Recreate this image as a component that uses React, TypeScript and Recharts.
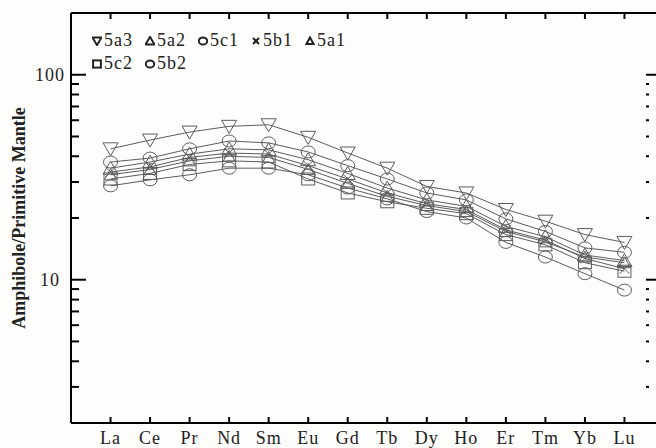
import { ComposedChart, Line, Scatter, XAxis, YAxis, Legend } from "recharts";

// REE pattern, amphibole normalised to primitive mantle
const elements = ["La", "Ce", "Pr", "Nd", "Sm", "Eu", "Gd", "Tb", "Dy", "Ho", "Er", "Tm", "Yb", "Lu"];

const s5a3 = [43.5, 48, 52.5, 56, 57, 49.5, 41.5, 35, 28.5, 26.5, 22, 19.3, 16.6, 15.2];
const s5c1 = [37.5, 39.2, 43.5, 47.5, 46.5, 42, 36, 31, 26.5, 24.5, 19.8, 17.2, 14.3, 13.6];
const s5a2 = [35, 37.5, 41, 43.5, 43, 38.5, 33, 28, 24.5, 22.8, 18.2, 16.2, 13.2, 12.4];
const s5b1 = [33.5, 35.5, 39.5, 41.5, 41, 36, 31, 26.5, 23.5, 22, 17.5, 15.6, 12.7, 11.3];
const s5a1 = [32.5, 34.5, 38, 40, 39.5, 34.5, 29.5, 25.5, 23, 21.5, 17.2, 15.3, 12.9, 12.1];
const s5c2 = [31, 33, 36.5, 38, 37.5, 31, 26.5, 24, 22.3, 21, 16.6, 14.8, 12.1, 11];
const s5b2 = [28.7, 30.7, 32.5, 35, 35, 32.5, 28, 24.8, 21.5, 20, 15.2, 12.9, 10.7, 8.9];

const yTicks = [3, 4, 5, 6, 7, 8, 9, 10, 20, 30, 40, 50, 60, 70, 80, 90, 100];
const yDomain = [2, 200];
const xDomain = [0, 15];
const legendRows = [
  ["5a3", "5a2", "5c1", "5b1", "5a1"],
  ["5c2", "5b2"],
];

type Kind = "down" | "up" | "upSmall" | "circle" | "cross" | "square";

const series: { key: string; values: number[]; kind: Kind }[] = [
  { key: "5a3", values: s5a3, kind: "down" },
  { key: "5c1", values: s5c1, kind: "circle" },
  { key: "5a2", values: s5a2, kind: "up" },
  { key: "5b1", values: s5b1, kind: "cross" },
  { key: "5a1", values: s5a1, kind: "upSmall" },
  { key: "5c2", values: s5c2, kind: "square" },
  { key: "5b2", values: s5b2, kind: "circle" },
];

const kindOf: Record<string, Kind> = Object.fromEntries(series.map((s) => [s.key, s.kind]));

const rows = elements.map((el, i) => {
  const row: Record<string, number | string> = { x: i + 1, el };
  series.forEach((s) => (row[s.key] = s.values[i]));
  return row;
});

const xTicks = elements.map((_, i) => i + 1);

// tick marks of the frame, placed through the chart scales
const leftMarks = yTicks.map((v) => ({ x: xDomain[0], y: v }));
const rightMarks = yTicks.map((v) => ({ x: xDomain[1], y: v }));
const bottomMarks = xTicks.map((t) => ({ x: t, y: yDomain[0] }));
const topMarks = xTicks.map((t) => ({ x: t, y: yDomain[1] }));

const FONT = "'Liberation Serif', 'Times New Roman', serif";
const GRAY = "#5c5c5c";

function shape(kind: Kind, cx: number, cy: number, k: number, stroke: string, sw: number) {
  switch (kind) {
    case "down":
      return <polygon points={`${cx - 7.5 * k},${cy - 6 * k} ${cx + 7.5 * k},${cy - 6 * k} ${cx},${cy + 7 * k}`} fill="none" stroke={stroke} strokeWidth={sw} />;
    case "up":
      return <polygon points={`${cx - 7.5 * k},${cy + 6 * k} ${cx + 7.5 * k},${cy + 6 * k} ${cx},${cy - 7 * k}`} fill="none" stroke={stroke} strokeWidth={sw} />;
    case "upSmall":
      return <polygon points={`${cx - 6 * k},${cy + 5 * k} ${cx + 6 * k},${cy + 5 * k} ${cx},${cy - 6 * k}`} fill="none" stroke={stroke} strokeWidth={sw} />;
    case "circle":
      return <ellipse cx={cx} cy={cy} rx={7 * k} ry={6 * k} fill="none" stroke={stroke} strokeWidth={sw} />;
    case "square":
      return <rect x={cx - 6.5 * k} y={cy - 6 * k} width={13 * k} height={12 * k} fill="none" stroke={stroke} strokeWidth={sw} />;
    default:
      return (
        <g stroke={stroke} strokeWidth={sw}>
          <line x1={cx - 5 * k} y1={cy - 5 * k} x2={cx + 5 * k} y2={cy + 5 * k} />
          <line x1={cx - 5 * k} y1={cy + 5 * k} x2={cx + 5 * k} y2={cy - 5 * k} />
        </g>
      );
  }
}

const isMajor = (v: number) => v === 10 || v === 100;

const LeftMark = (p: any) => (
  <path d={`M${p.cx},${p.cy}h${isMajor(p.payload.y) ? 15 : 8}`} stroke="#000" strokeWidth={2} fill="none" />
);
const RightMark = (p: any) => (
  <path d={isMajor(p.payload.y) ? `M${p.cx - 18},${p.cy}h18` : `M${p.cx - 18},${p.cy}h3`} stroke="#000" strokeWidth={2} fill="none" />
);
const BottomMark = (p: any) => <path d={`M${p.cx},${p.cy}v-6`} stroke="#000" strokeWidth={2} fill="none" />;
const TopMark = (p: any) => <path d={`M${p.cx},${p.cy}v6`} stroke="#000" strokeWidth={2} fill="none" />;

const LeftTick = (props: any) => {
  const x = Number(props.x);
  const y = Number(props.y);
  const v = props.payload.value;
  if (!isMajor(v)) return <g />;
  return (
    <text x={x - 21} y={y + 6} textAnchor="middle" fontFamily={FONT} fontSize={18} letterSpacing={1} fill="#222">
      {v}
    </text>
  );
};

const BottomTick = (props: any) => (
  <text x={Number(props.x)} y={Number(props.y) + 21} textAnchor="middle" fontFamily={FONT} fontSize={18} letterSpacing={1} fill="#222">
    {elements[props.payload.value - 1]}
  </text>
);

const YTitle = () => (
  <text transform="translate(25,218) rotate(-90)" textAnchor="middle" fontFamily={FONT} fontSize={18} fontWeight="bold" fill="#222">
    Amphibole/Primitive Mantle
  </text>
);

const renderLegend = () => (
  <div style={{ fontFamily: FONT, fontSize: 18, lineHeight: "23px", color: "#222", letterSpacing: 1 }}>
    {legendRows.map((r, ri) => (
      <div key={ri} style={{ display: "flex", whiteSpace: "nowrap" }}>
        {r.map((name) => (
          <span key={name} style={{ display: "inline-flex", alignItems: "center", marginRight: 12 }}>
            <svg width={10} height={10} style={{ marginRight: 2 }}>
              {shape(kindOf[name], 5, 5, 0.6, "#222", 2)}
            </svg>
            {name}
          </span>
        ))}
      </div>
    ))}
  </div>
);

const axisStyle = { stroke: "#000", strokeWidth: 2 };

export default function App() {
  return (
    <div style={{ position: "absolute", left: 0, top: 0, width: 656, height: 448, overflow: "hidden", background: "#fdfdfb" }}>
      <ComposedChart width={700} height={448} data={rows} margin={{ top: 12, right: 20, bottom: 0, left: 21 }}>
        <XAxis
          dataKey="x"
          type="number"
          domain={xDomain}
          ticks={xTicks}
          interval={0}
          height={25}
          tickSize={0}
          tickMargin={0}
          tickLine={false}
          tick={<BottomTick />}
          axisLine={axisStyle}
        />
        <XAxis
          xAxisId="top"
          orientation="top"
          dataKey="x"
          type="number"
          domain={xDomain}
          ticks={xTicks}
          interval={0}
          height={1}
          tickSize={0}
          tickLine={false}
          tick={false}
          axisLine={axisStyle}
        />
        <YAxis
          type="number"
          scale="log"
          domain={yDomain}
          allowDataOverflow
          ticks={yTicks}
          interval={0}
          width={50}
          tickSize={0}
          tickMargin={0}
          tickLine={false}
          tick={<LeftTick />}
          axisLine={axisStyle}
          label={<YTitle />}
        />
        <YAxis
          yAxisId="right"
          orientation="right"
          type="number"
          scale="log"
          domain={yDomain}
          allowDataOverflow
          ticks={yTicks}
          interval={0}
          width={16}
          tickSize={0}
          tickLine={false}
          tick={false}
          axisLine={axisStyle}
        />
        <Legend content={renderLegend} verticalAlign="middle" align="center" wrapperStyle={{ left: 92, top: 29, width: 330 }} />
        <Scatter data={leftMarks} dataKey="y" shape={LeftMark} isAnimationActive={false} legendType="none" />
        <Scatter data={rightMarks} dataKey="y" shape={RightMark} isAnimationActive={false} legendType="none" />
        <Scatter data={bottomMarks} dataKey="y" shape={BottomMark} isAnimationActive={false} legendType="none" />
        <Scatter data={topMarks} dataKey="y" shape={TopMark} isAnimationActive={false} legendType="none" />
        {series.map((s) => (
          <Line
            key={s.key}
            dataKey={s.key}
            type="linear"
            stroke={GRAY}
            strokeWidth={1}
            isAnimationActive={false}
            dot={(p: any) => <g key={`${s.key}-${p.index}`}>{shape(s.kind, p.cx, p.cy, 1, GRAY, 1)}</g>}
            activeDot={false}
          />
        ))}
      </ComposedChart>
    </div>
  );
}
